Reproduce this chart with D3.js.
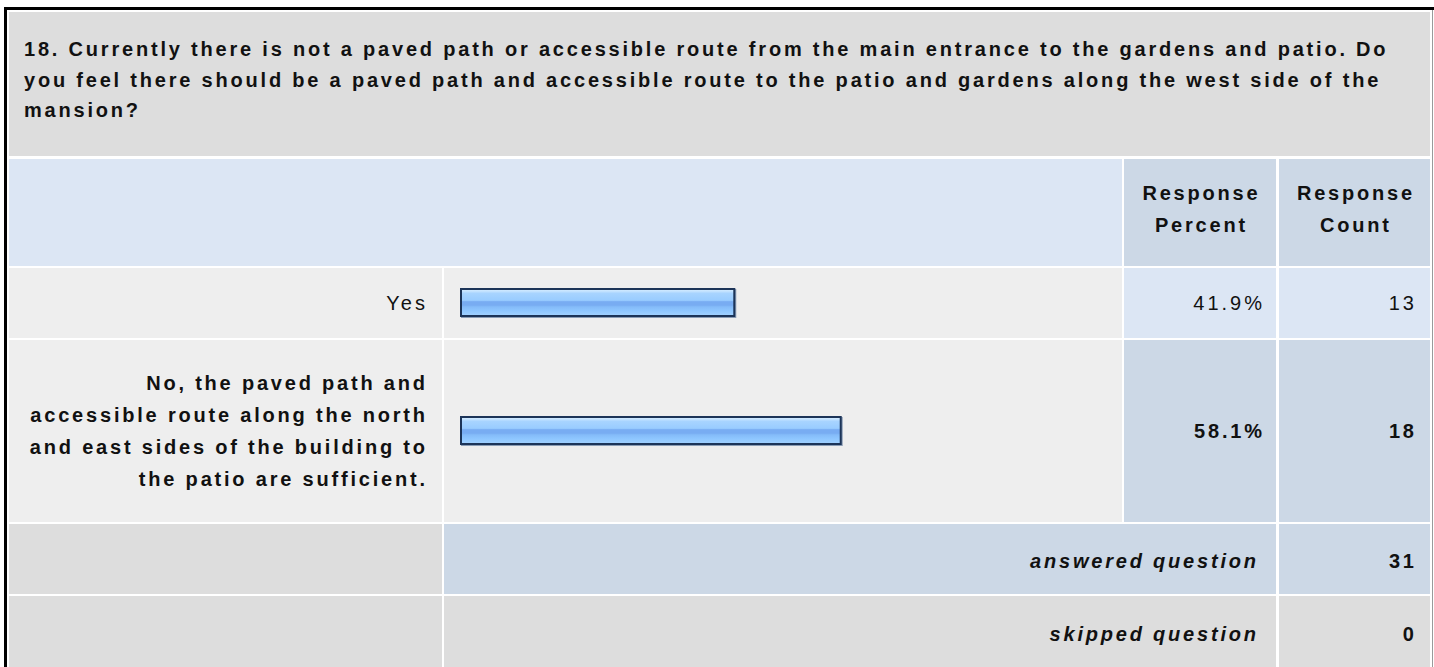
<!DOCTYPE html>
<html>
<head>
<meta charset="utf-8">
<script src="https://cdn.jsdelivr.net/npm/d3@7"></script>
<style>
  html, body { margin: 0; padding: 0; background: #fff; }
  svg { display: block; }
  text { font-family: "Liberation Sans", Arial, Helvetica, sans-serif; fill: #111; }
</style>
</head>
<body>
<div id="chart"></div>
<script>
// Question text, one entry per wrapped line
const titleLines = [
  "18. Currently there is not a paved path or accessible route from the main entrance to the gardens and patio. Do",
  "you feel there should be a paved path and accessible route to the patio and gardens along the west side of the",
  "mansion?"
];

// Answer choices (wrapped lines), their percentages and counts
const answerLabels = [
  ["Yes"],
  ["No, the paved path and", "accessible route along the north", "and east sides of the building to", "the patio are sufficient."]
];
const answerPercents = [41.9, 58.1];
const answerCounts = [13, 18];

// Column headers
const headerPercent = ["Response", "Percent"];
const headerCount = ["Response", "Count"];

// Summary rows
const summaryLabels = ["answered question", "skipped question"];
const summaryCounts = [31, 0];

const W = 1434, H = 667;
const svg = d3.select("#chart").append("svg").attr("width", W).attr("height", H);

// bar gradient
const defs = svg.append("defs");
const grad = defs.append("linearGradient").attr("id", "barFill")
  .attr("x1", 0).attr("y1", 0).attr("x2", 0).attr("y2", 1);
[[0, "#d6edff"], [0.08, "#c6e4ff"], [0.16, "#a8d4ff"], [0.42, "#99ccff"], [0.47, "#78acf2"],
 [0.6, "#78acf2"], [0.66, "#84bbf9"], [0.8, "#8ec6ff"], [1, "#a2d2ff"]]
  .forEach(([o, c]) => grad.append("stop").attr("offset", o).attr("stop-color", c));

// column edges
const colLabel = [9, 442], colBar = [444, 1122], colPct = [1124, 1276], colCnt = [1279, 1430];
const C_GRAY = "#dddddd", C_LIGHT = "#eeeeee", C_BLUE = "#dce6f4", C_BLUE2 = "#ccd8e6";
const FS = 20, LS = 2.8, LS_REG = 3.0;

function cell(x0, x1, y0, y1, fill) {
  svg.append("rect").attr("x", x0).attr("y", y0).attr("width", x1 - x0).attr("height", y1 - y0).attr("fill", fill);
}

// right-aligned text; trailing letter-spacing is compensated so the ink ends at xr
function rtext(xr, y, str, bold, italic) {
  const ls = bold ? LS : LS_REG;
  return svg.append("text").attr("x", xr + ls).attr("y", y)
    .attr("text-anchor", "end").attr("font-size", FS)
    .attr("font-weight", bold ? "bold" : "normal")
    .attr("font-style", italic ? "italic" : "normal")
    .attr("letter-spacing", ls)
    .text(str);
}

// outer frame
svg.append("rect").attr("x", 4).attr("y", 7).attr("width", W - 4).attr("height", 3).attr("fill", "#000");
svg.append("rect").attr("x", 4).attr("y", 7).attr("width", 3).attr("height", H - 7).attr("fill", "#000");
svg.append("rect").attr("x", 1432).attr("y", 10).attr("width", 1).attr("height", H - 10).attr("fill", "#9a9a9a");

// title block
cell(9, 1430, 12, 156, C_GRAY);
svg.append("g").selectAll("text").data(titleLines).join("text")
  .attr("x", 24).attr("y", (d, i) => 56 + i * 30.7)
  .attr("font-size", FS).attr("font-weight", "bold").attr("letter-spacing", LS)
  .text(d => d);

// header row
cell(9, colBar[1], 159, 266, C_BLUE);
cell(colPct[0], colPct[1], 159, 266, C_BLUE2);
cell(colCnt[0], colCnt[1], 159, 266, C_BLUE2);
[[headerPercent, (colPct[0] + colPct[1]) / 2], [headerCount, (colCnt[0] + colCnt[1]) / 2]].forEach(([lines, cx]) => {
  svg.append("g").selectAll("text").data(lines).join("text")
    .attr("x", cx + LS / 2).attr("y", (d, i) => 200 + i * 32)
    .attr("text-anchor", "middle")
    .attr("font-size", FS).attr("font-weight", "bold").attr("letter-spacing", LS)
    .text(d => d);
});

// answer rows
const rows = [[268, 338], [340, 522]];
const maxPct = d3.max(answerPercents);
const x = d3.scaleLinear().domain([0, 100]).range([460, 1117]);

answerLabels.forEach((lines, i) => {
  const [y0, y1] = rows[i];
  const cy = (y0 + y1) / 2;
  const top = answerPercents[i] === maxPct;
  cell(colLabel[0], colLabel[1], y0, y1, C_LIGHT);
  cell(colBar[0], colBar[1], y0, y1, C_LIGHT);
  cell(colPct[0], colPct[1], y0, y1, top ? C_BLUE2 : C_BLUE);
  cell(colCnt[0], colCnt[1], y0, y1, top ? C_BLUE2 : C_BLUE);

  const lh = 32;
  lines.forEach((ln, k) => rtext(425, cy + 6.5 + (k - (lines.length - 1) / 2) * lh, ln, top, false));

  // bar
  const by = cy - 15;
  svg.append("rect").attr("x", x(0) + 1).attr("y", by + 1)
    .attr("width", x(answerPercents[i]) - x(0)).attr("height", 29)
    .attr("fill", "#8a9cb4");
  svg.append("rect").attr("x", x(0) + 1).attr("y", by + 1)
    .attr("width", x(answerPercents[i]) - x(0) - 2).attr("height", 27)
    .attr("fill", "url(#barFill)").attr("stroke", "#1c3458").attr("stroke-width", 2);

  rtext(1262, cy + 6.5, answerPercents[i].toFixed(1) + "%", top, false);
  rtext(1414, cy + 6.5, answerCounts[i], top, false);
});

// summary rows
const sRows = [[524, 594], [596, 667]];
summaryLabels.forEach((lab, i) => {
  const [y0, y1] = sRows[i];
  const cy = (y0 + y1) / 2;
  const fill = i === 0 ? C_BLUE2 : C_GRAY;
  cell(colLabel[0], colLabel[1], y0, y1, C_GRAY);
  cell(colBar[0], colPct[1], y0, y1, fill);
  cell(colCnt[0], colCnt[1], y0, y1, fill);
  rtext(1256, cy + 9, lab, true, true);
  rtext(1414, cy + 9, summaryCounts[i], true, false);
});
</script>
</body>
</html>
